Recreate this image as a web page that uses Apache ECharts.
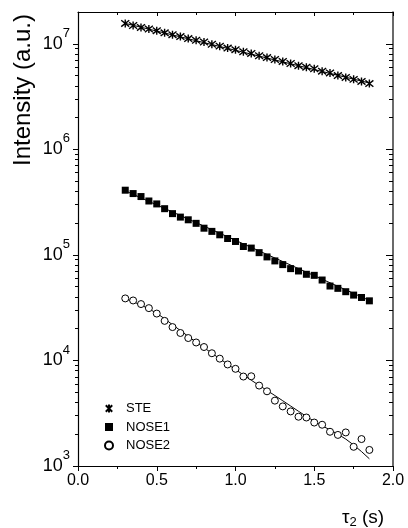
<!DOCTYPE html>
<html>
<head>
<meta charset="utf-8">
<script src="https://cdn.jsdelivr.net/npm/echarts@6/dist/echarts.min.js"></script>
<style>
  html, body { margin: 0; padding: 0; background: #fff; }
  #chart { width: 408px; height: 528px; }
</style>
</head>
<body>
<div id="chart"></div>
<script>
// evolution times tau2 (s)
const taus = [0.3, 0.35, 0.4, 0.45, 0.5, 0.55, 0.6, 0.65, 0.7, 0.75, 0.8, 0.85, 0.9, 0.95, 1.0, 1.05,
  1.1, 1.15, 1.2, 1.25, 1.3, 1.35, 1.4, 1.45, 1.5, 1.55, 1.6, 1.65, 1.7, 1.75, 1.8, 1.85];

const steValues = [1.56e7, 1.49e7, 1.43e7, 1.38e7, 1.33e7, 1.27e7, 1.22e7, 1.17e7, 1.12e7, 1.08e7,
  1.04e7, 9.9e6, 9.5e6, 9.1e6, 8.8e6, 8.4e6, 8.1e6, 7.7e6, 7.4e6, 7.1e6, 6.8e6, 6.5e6, 6.2e6,
  6.0e6, 5.8e6, 5.5e6, 5.3e6, 5.0e6, 4.8e6, 4.6e6, 4.4e6, 4.2e6];

const nose1Values = [4.1e5, 3.81e5, 3.57e5, 3.24e5, 3.04e5, 2.74e5, 2.46e5, 2.28e5, 2.15e5, 1.99e5,
  1.79e5, 1.67e5, 1.55e5, 1.43e5, 1.34e5, 1.2e5, 1.16e5, 1.05e5, 9.57e4, 8.77e4, 8.09e4, 7.41e4,
  7.04e4, 6.55e4, 6.4e4, 5.78e4, 5.07e4, 4.82e4, 4.48e4, 4.16e4, 3.95e4, 3.67e4];

const nose2Values = [3.87e4, 3.7e4, 3.42e4, 3.13e4, 2.78e4, 2.37e4, 2.07e4, 1.82e4, 1.63e4, 1.48e4,
  1.34e4, 1.17e4, 1.04e4, 9160, 8330, 7040, 7080, 5780, 5100, 4160, 3670, 3290, 2930, 2880,
  2580, 2460, 2110, 1970, 2080, 1520, 1800, 1420];

const nose2Fit = [3.85e4, 3.6e4, 3.35e4, 3.08e4, 2.8e4, 2.48e4, 2.18e4, 1.92e4, 1.69e4, 1.49e4,
  1.32e4, 1.17e4, 1.04e4, 9200, 8200, 7300, 6500, 5800, 5200, 4650, 4150, 3700, 3300, 2950,
  2650, 2400, 2200, 2000, 1800, 1580, 1370, 1170];

// single exponential fits for the two upper curves (end points)
const steFit = [[0.3, 1.56e7], [1.85, 4.25e6]];
const nose1Fit = [[0.3, 4.05e5], [1.85, 3.7e4]];

const seriesNames = ['STE', 'NOSE1', 'NOSE2'];
const xTicks = [0, 0.5, 1.0, 1.5, 2.0];
const yMin = 1e3;
const yMax = 2e7;
const minorMultipliers = [2, 3, 4, 5, 6, 7, 8, 9];
const decades = [1e3, 1e4, 1e5, 1e6];

const minorTicks = [];
decades.forEach(d => minorMultipliers.forEach(m => minorTicks.push(Math.log10(d * m))));

const font = 'Liberation Sans, Arial, sans-serif';
const asterisk = 'path://M1,1 L9,9 M1,9 L9,1 M5,0 L5,10';

const chart = echarts.init(document.getElementById('chart'), null, { renderer: 'canvas' });

const pairs = vals => taus.map((t, i) => [t, vals[i]]);

const option = {
  animation: false,
  backgroundColor: '#fff',
  grid: { left: 78, right: 15, top: 12, bottom: 62 },
  legend: {
    data: seriesNames,
    orient: 'vertical',
    left: 99,
    top: 397,
    itemWidth: 8,
    itemHeight: 8,
    itemGap: 5.5,
    textStyle: { fontFamily: font, fontSize: 13, color: '#000', lineHeight: 12, padding: [0, 0, 0, 8] }
  },
  xAxis: [
    {
      type: 'value',
      position: 'bottom',
      min: xTicks[0],
      max: xTicks[xTicks.length - 1],
      interval: 0.5,
      axisLine: { lineStyle: { color: '#000', width: 1.2 } },
      axisTick: { inside: false, length: 5, lineStyle: { color: '#000' } },
      minorTick: { show: true, splitNumber: 2, length: 3, lineStyle: { color: '#000' } },
      axisLabel: { fontFamily: font, fontSize: 16, color: '#000', margin: 7, formatter: v => v.toFixed(1) },
      splitLine: { show: false }
    },
    {
      type: 'value',
      position: 'top',
      min: xTicks[0],
      max: xTicks[xTicks.length - 1],
      interval: 0.5,
      axisLine: { lineStyle: { color: '#000', width: 1.2 } },
      axisTick: { inside: true, length: 4, lineStyle: { color: '#000' } },
      minorTick: { show: true, splitNumber: 2, length: 3, lineStyle: { color: '#000' } },
      axisLabel: { show: false },
      splitLine: { show: false }
    }
  ],
  yAxis: [
    {
      type: 'log',
      position: 'left',
      min: yMin,
      max: yMax,
      axisLine: { lineStyle: { color: '#000', width: 1.2 } },
      axisTick: { inside: false, length: 5, lineStyle: { color: '#000' } },
      axisLabel: {
        margin: 8,
        showMaxLabel: false,
        formatter: v => {
          const e = Math.round(Math.log10(v));
          if (Math.abs(Math.pow(10, e) - v) / v > 1e-6) return '';
          return '{b|10}{s|' + e + '}';
        },
        rich: {
          b: { fontFamily: font, fontSize: 18, lineHeight: 34, color: '#000' },
          s: { fontFamily: font, fontSize: 13, lineHeight: 13, color: '#000', verticalAlign: 'top' }
        }
      },
      splitLine: { show: false }
    },
    {
      type: 'value',
      position: 'left',
      min: Math.log10(yMin),
      max: Math.log10(yMax),
      axisLine: { show: false },
      axisTick: { inside: false, length: 3, customValues: minorTicks, lineStyle: { color: '#000' } },
      axisLabel: { show: false },
      splitLine: { show: false }
    },
    {
      type: 'log',
      position: 'right',
      min: yMin,
      max: yMax,
      axisLine: { lineStyle: { color: '#444', width: 1.6 } },
      axisTick: { inside: true, length: 7, lineStyle: { color: '#000' } },
      axisLabel: { show: false },
      splitLine: { show: false }
    },
    {
      type: 'value',
      position: 'right',
      min: Math.log10(yMin),
      max: Math.log10(yMax),
      axisLine: { show: false },
      axisTick: { inside: true, length: 4, customValues: minorTicks, lineStyle: { color: '#000' } },
      axisLabel: { show: false },
      splitLine: { show: false }
    }
  ],
  series: [
    {
      name: 'STE fit', type: 'line', data: steFit, showSymbol: false, z: 1,
      lineStyle: { color: '#000', width: 1 }, silent: true
    },
    {
      name: 'NOSE1 fit', type: 'line', data: nose1Fit, showSymbol: false, z: 1,
      lineStyle: { color: '#000', width: 1 }, silent: true
    },
    {
      name: 'NOSE2 fit', type: 'line', data: pairs(nose2Fit), showSymbol: false, z: 1,
      lineStyle: { color: '#000', width: 1 }, silent: true
    },
    {
      name: 'STE', type: 'scatter', data: pairs(steValues), z: 2,
      symbol: asterisk, symbolSize: 8,
      itemStyle: { color: 'rgba(0,0,0,0)', borderColor: '#000', borderWidth: 1.4, opacity: 1 }
    },
    {
      name: 'NOSE1', type: 'scatter', data: pairs(nose1Values), z: 2,
      symbol: 'rect', symbolSize: 7,
      itemStyle: { color: '#000', opacity: 1 }
    },
    {
      name: 'NOSE2', type: 'scatter', data: pairs(nose2Values), z: 2,
      symbol: 'circle', symbolSize: 7,
      itemStyle: { color: '#fff', borderColor: '#000', borderWidth: 1, opacity: 1 }
    }
  ],
  graphic: [
    {
      type: 'text',
      x: 23,
      y: 90,
      rotation: Math.PI / 2,
      style: {
        text: 'Intensity (a.u.)',
        fontFamily: font,
        fontSize: 24,
        fill: '#000',
        align: 'center',
        verticalAlign: 'middle'
      }
    },
    {
      type: 'text',
      x: 363,
      y: 518,
      style: {
        text: '{a|τ}{s|2}{a| (s)}',
        align: 'center',
        verticalAlign: 'middle',
        rich: {
          a: { fontFamily: font, fontSize: 19, lineHeight: 22, fill: '#000' },
          s: { fontFamily: font, fontSize: 13, lineHeight: 12, fill: '#000', verticalAlign: 'bottom' }
        }
      }
    }
  ]
};

chart.setOption(option);
window.addEventListener('resize', () => chart.resize());
</script>
</body>
</html>
